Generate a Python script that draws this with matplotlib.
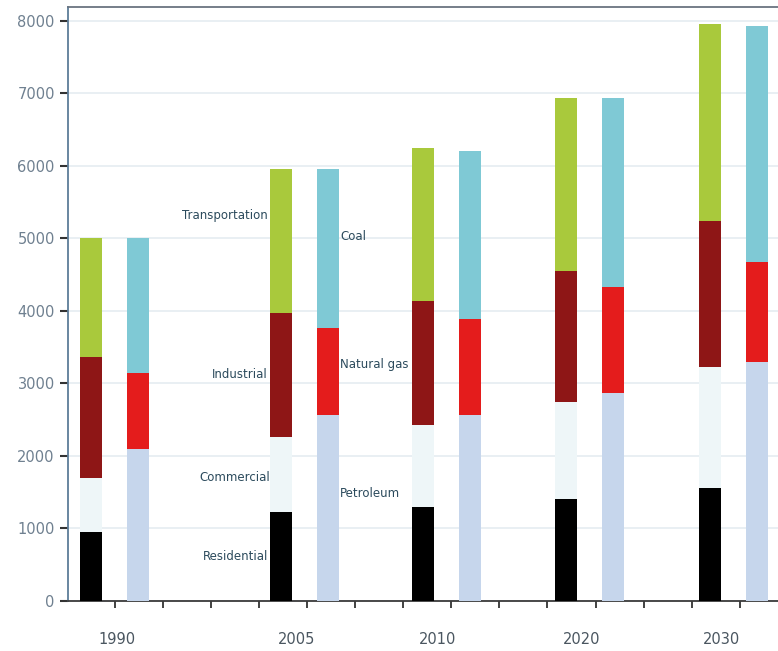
import numpy as np
import matplotlib
matplotlib.use("Agg")
import matplotlib.pyplot as plt

# Energy use by sector (left bar) and by fuel (right bar)
years = ["1990", "2005", "2010", "2020", "2030"]

residential = [950, 1230, 1290, 1400, 1560]
commercial = [750, 1030, 1140, 1340, 1670]
industrial = [1670, 1710, 1710, 1810, 2010]
transportation = [1630, 1980, 2110, 2380, 2710]

petroleum = [2100, 2560, 2570, 2870, 3300]
natural_gas = [1050, 1210, 1320, 1460, 1380]
coal = [1850, 2180, 2310, 2610, 3250]

sector_names = ["Residential", "Commercial", "Industrial", "Transportation"]
sector_colors = ["#000000", "#eef6f8", "#8e1616", "#a9c93c"]
fuel_names = ["Petroleum", "Natural gas", "Coal"]
fuel_colors = ["#c6d6ec", "#e41c1c", "#7fc9d5"]

# group positions (first gap is wider)
pos = np.array([0.0, 1.33, 2.32, 3.32, 4.33])
offset = 0.33
width = 0.155
label_shift = np.array([0.18, 0.11, 0.10, 0.11, 0.08])

fig = plt.figure(figsize=(7.78, 6.51), dpi=100)
ax = fig.add_axes([0.0874, 0.0768, 0.9126, 0.9124])

bottom = np.zeros(len(years))
for vals, col in zip([residential, commercial, industrial, transportation], sector_colors):
    ax.bar(pos, vals, width, bottom=bottom, color=col, zorder=3)
    bottom += np.array(vals)

bottom = np.zeros(len(years))
for vals, col in zip([petroleum, natural_gas, coal], fuel_colors):
    ax.bar(pos + offset, vals, width, bottom=bottom, color=col, zorder=3)
    bottom += np.array(vals)

txt = dict(fontsize=8.5, color="#2b4a5c", va="center")
ax.text(1.238, 5310, "Transportation", ha="right", **txt)
ax.text(1.238, 3117, "Industrial", ha="right", **txt)
ax.text(1.252, 1697, "Commercial", ha="right", **txt)
ax.text(1.238, 607, "Residential", ha="right", **txt)
ax.text(1.741, 5020, "Coal", ha="left", **txt)
ax.text(1.741, 3255, "Natural gas", ha="left", **txt)
ax.text(1.741, 1476, "Petroleum", ha="left", **txt)

ax.set_xlim(-0.161, 4.804)
ax.set_ylim(0, 8190)
ax.set_yticks(np.arange(0, 8001, 1000))
ax.tick_params(axis="y", labelsize=10.5, labelcolor="#6f8090", color="#333333",
               length=6, width=1.5, direction="out")

ax.set_xticks(pos + label_shift)
ax.set_xticklabels(years)
ax.set_xticks(np.arange(0.168, 4.7, 0.336), minor=True)
ax.tick_params(axis="x", which="major", length=0, pad=22, labelsize=10.5,
               labelcolor="#4a5660")
ax.tick_params(axis="x", which="minor", length=5, width=1.3, color="#333333")

ax.yaxis.grid(True, color="#e3ebf0", lw=1.1, zorder=0)
ax.set_axisbelow(True)

ax.spines["right"].set_visible(False)
ax.spines["left"].set_color("#5d7d99")
ax.spines["left"].set_linewidth(1.3)
ax.spines["bottom"].set_color("#3a3a3a")
ax.spines["bottom"].set_linewidth(1.3)
ax.spines["top"].set_color("#6a7480")
ax.spines["top"].set_linewidth(1.3)

fig.savefig("out.png", dpi=100)
